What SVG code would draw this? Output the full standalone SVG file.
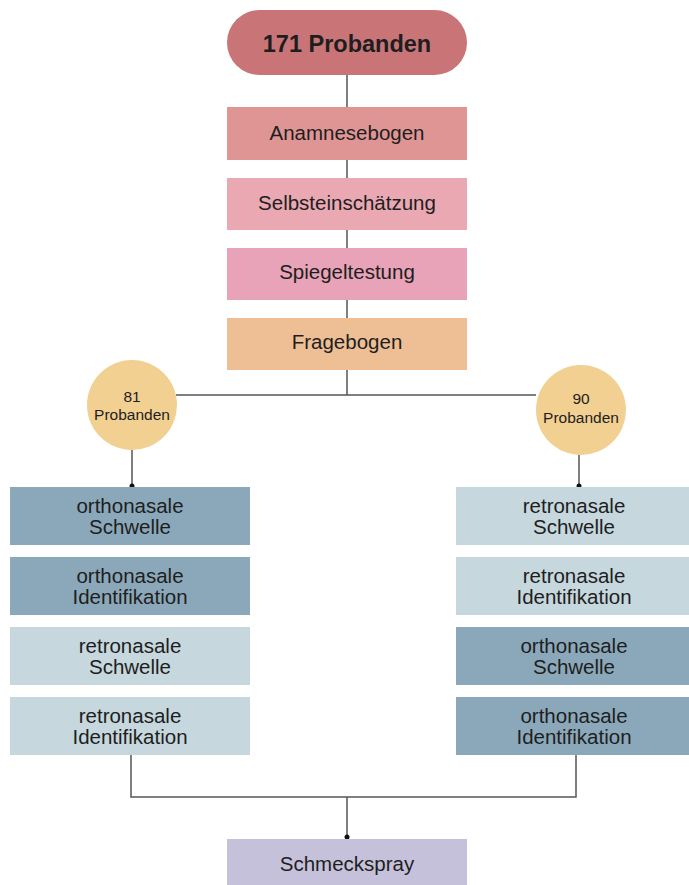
<svg xmlns="http://www.w3.org/2000/svg" width="689" height="885" viewBox="0 0 689 885">
<style>
text{font-family:"Liberation Sans",Arial,sans-serif;fill:#1e1e1e;text-anchor:middle}
.lbl{font-size:20.5px}
.c{font-size:15.5px}
.ln{stroke:#555;stroke-width:1.5;fill:none}
.dk{fill:#8ba8ba}
.lt{fill:#c6d7de}
</style>
<defs>
<marker id="dot" markerWidth="6" markerHeight="6" refX="3" refY="3" markerUnits="userSpaceOnUse"><circle cx="3" cy="3" r="2.5" fill="#111"/></marker>
</defs>
<g id="connectors">
<line class="ln" x1="347" y1="75" x2="347" y2="107"/>
<line class="ln" x1="347" y1="160" x2="347" y2="178"/>
<line class="ln" x1="347" y1="230" x2="347" y2="248"/>
<line class="ln" x1="347" y1="300" x2="347" y2="318"/>
<line class="ln" x1="347" y1="370" x2="347" y2="395"/>
<line class="ln" x1="176" y1="395" x2="536" y2="395"/>
<line class="ln" x1="132" y1="450" x2="132" y2="486" marker-end="url(#dot)"/>
<line class="ln" x1="579" y1="455" x2="579" y2="486" marker-end="url(#dot)"/>
<polyline class="ln" points="131,755 131,797 576,797 576,755"/>
<line class="ln" x1="347" y1="797" x2="347" y2="837" marker-end="url(#dot)"/>
</g>
<g id="n171"><rect x="227" y="10" width="240" height="65" rx="32.5" fill="#c97578"/><text x="347" y="51.5" style="font-size:23.5px;font-weight:bold">171 Probanden</text></g>
<g id="anamnese"><rect x="227" y="107" width="240" height="53" fill="#e09595"/><text class="lbl" x="347" y="140">Anamnesebogen</text></g>
<g id="selbst"><rect x="227" y="178" width="240" height="52" fill="#eaa8b3"/><text class="lbl" x="347" y="210">Selbsteinschätzung</text></g>
<g id="spiegel"><rect x="227" y="248" width="240" height="52" fill="#e8a3b8"/><text class="lbl" x="347" y="279">Spiegeltestung</text></g>
<g id="frage"><rect x="227" y="318" width="240" height="52" fill="#eebf95"/><text class="lbl" x="347" y="349">Fragebogen</text></g>
<g id="c81"><circle cx="132" cy="405" r="45" fill="#f1d092"/><text class="c" x="132" y="401.5">81</text><text class="c" x="132" y="419.5">Probanden</text></g>
<g id="c90"><circle cx="581" cy="410" r="45" fill="#f1d092"/><text class="c" x="581" y="403.5">90</text><text class="c" x="581" y="422.5">Probanden</text></g>
<g id="l1"><rect class="dk" x="10" y="487" width="240" height="58"/><text class="lbl" x="130" y="513">orthonasale</text><text class="lbl" x="130" y="534">Schwelle</text></g>
<g id="l2"><rect class="dk" x="10" y="557" width="240" height="58"/><text class="lbl" x="130" y="583">orthonasale</text><text class="lbl" x="130" y="604">Identifikation</text></g>
<g id="l3"><rect class="lt" x="10" y="627" width="240" height="58"/><text class="lbl" x="130" y="653">retronasale</text><text class="lbl" x="130" y="674">Schwelle</text></g>
<g id="l4"><rect class="lt" x="10" y="697" width="240" height="58"/><text class="lbl" x="130" y="723">retronasale</text><text class="lbl" x="130" y="744">Identifikation</text></g>
<g id="r1"><rect class="lt" x="456" y="487" width="233" height="58"/><text class="lbl" x="574" y="513">retronasale</text><text class="lbl" x="574" y="534">Schwelle</text></g>
<g id="r2"><rect class="lt" x="456" y="557" width="233" height="58"/><text class="lbl" x="574" y="583">retronasale</text><text class="lbl" x="574" y="604">Identifikation</text></g>
<g id="r3"><rect class="dk" x="456" y="627" width="233" height="58"/><text class="lbl" x="574" y="653">orthonasale</text><text class="lbl" x="574" y="674">Schwelle</text></g>
<g id="r4"><rect class="dk" x="456" y="697" width="233" height="58"/><text class="lbl" x="574" y="723">orthonasale</text><text class="lbl" x="574" y="744">Identifikation</text></g>
<g id="spray"><rect x="227" y="839" width="240" height="46" fill="#c6c1da"/><text class="lbl" x="347" y="871">Schmeckspray</text></g>
</svg>
